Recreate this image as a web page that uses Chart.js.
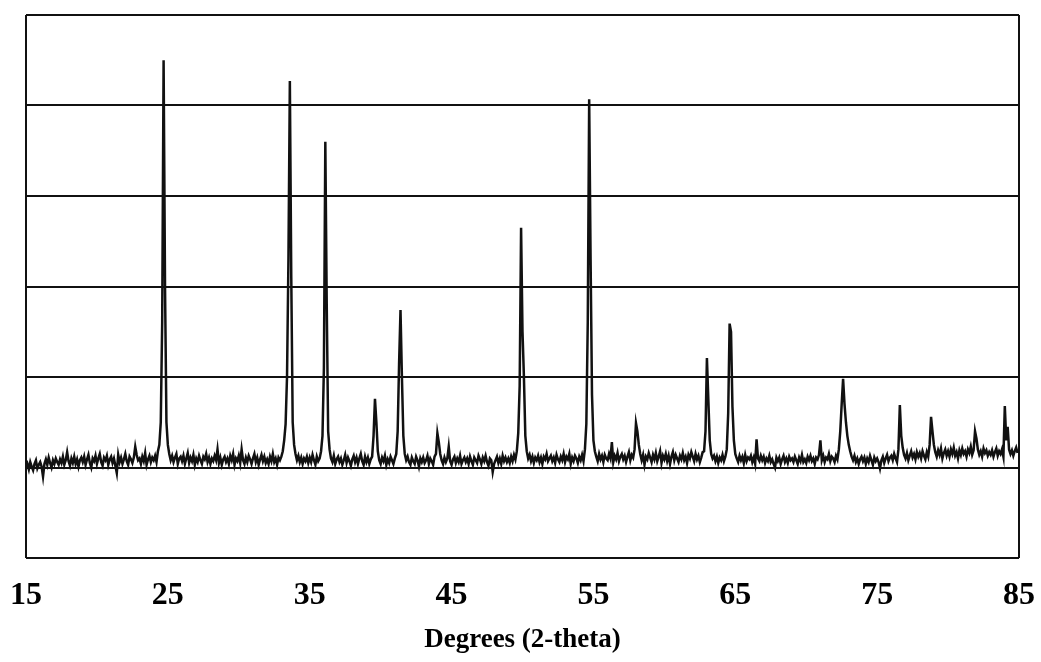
<!DOCTYPE html>
<html>
<head>
<meta charset="utf-8">
<title>XRD pattern</title>
<script src="https://cdn.jsdelivr.net/npm/chart.js@4.4.1/dist/chart.umd.min.js"></script>
<style>
  html, body { margin: 0; padding: 0; background: #fff; }
  #wrap { width: 1041px; height: 662px; }
</style>
</head>
<body>
<div id="wrap"><canvas id="xrd" width="1041" height="662"></canvas></div>
<script>
// scan settings (degrees 2-theta)
const startAngle = 15;
const stepAngle = 0.1;

// tick labels on the x axis
const xTicks = [15, 25, 35, 45, 55, 65, 75, 85];

// intensity, one row per degree (15.0 ... 84.9)
const intensity = [
  100, 104,  98, 106, 101,  97, 104, 108,  99, 103, // 15
  106, 101,  90, 104, 109, 103, 111, 105, 100, 108, // 16
  104, 110, 106, 103, 109, 105, 112, 103, 108, 117, // 17
  107, 102, 110, 105, 112, 104, 109, 101, 108, 111, // 18
  106, 112, 103, 109, 114, 105, 100, 110, 107, 113, // 19
  104, 110, 115, 106, 102, 111, 108, 113, 103, 109, // 20
  112, 105, 110, 102,  94, 114, 106, 111, 104, 109, // 21
  115, 107, 103, 112, 109, 105, 111, 123, 114, 108, // 22
  110, 104, 112, 107, 116, 103, 109, 113, 106, 111, // 23
  108, 113, 106, 118, 125, 150, 260, 550, 300, 150, // 24
  125, 115, 108, 113, 106, 111, 115, 104, 110, 112, // 25
  107, 113, 104, 110, 116, 105, 111, 107, 114, 103, // 26
  110, 106, 113, 108, 104, 112, 109, 115, 106, 111, // 27
  104, 110, 107, 113, 108, 120, 105, 111, 103, 109, // 28
  112, 106, 110, 104, 113, 108, 115, 103, 110, 107, // 29
  113, 105, 120, 108, 104, 111, 106, 113, 109, 104, // 30
  110, 115, 106, 111, 103, 109, 114, 107, 112, 105, // 31
  109, 104, 112, 107, 115, 106, 110, 103, 111, 108, // 32
  112, 118, 130, 148, 200, 330, 527, 310, 150, 125, // 33
  115, 108, 113, 106, 111, 104, 110, 107, 112, 105, // 34
  111, 106, 114, 108, 103, 112, 107, 110, 118, 135, // 35
  210, 460, 280, 140, 120, 110, 106, 113, 104, 109, // 36
  112, 106, 110, 103, 108, 114, 105, 111, 107, 102, // 37
  109, 113, 106, 111, 104, 110, 115, 107, 103, 112, // 38
  106, 111, 104, 109, 112, 135, 176, 150, 118, 108, // 39
  104, 111, 107, 113, 103, 109, 105, 112, 108, 104, // 40
  110, 115, 140, 215, 274, 200, 135, 115, 108, 112, // 41
  106, 103, 111, 107, 104, 112, 108, 101, 110, 106, // 42
  111, 105, 108, 113, 104, 110, 107, 103, 112, 115, // 43
  138, 128, 115, 108, 104, 111, 106, 110, 123, 107, // 44
  103, 109, 112, 105, 110, 106, 113, 104, 108, 111, // 45
  106, 110, 104, 112, 107, 103, 111, 108, 105, 113, // 46
  109, 104, 111, 107, 113, 106, 102, 110, 108,  95, // 47
  104, 108, 112, 105, 110, 104, 113, 107, 111, 106, // 48
  110, 105, 112, 107, 114, 109, 118, 138, 190, 365, // 49
  250, 200, 135, 118, 110, 114, 107, 112, 105, 111, // 50
  108, 113, 106, 111, 104, 112, 109, 115, 107, 110, // 51
  113, 107, 111, 105, 114, 109, 106, 112, 108, 115, // 52
  106, 112, 109, 115, 104, 111, 107, 113, 110, 105, // 53
  112, 108, 114, 107, 120, 148, 260, 507, 330, 180, // 54
  130, 118, 112, 107, 115, 109, 113, 106, 114, 110, // 55
  108, 115, 110, 128, 106, 113, 109, 116, 107, 112, // 56
  115, 109, 113, 106, 112, 117, 108, 114, 111, 120, // 57
  149, 140, 125, 115, 108, 114, 103, 112, 109, 116, // 58
  111, 106, 114, 109, 116, 107, 112, 118, 105, 113, // 59
  109, 115, 107, 113, 104, 112, 117, 108, 114, 110, // 60
  106, 113, 109, 116, 108, 112, 105, 114, 110, 117, // 61
  112, 107, 115, 109, 113, 106, 111, 117, 118, 140, // 62
  221, 175, 130, 115, 110, 113, 107, 112, 105, 111, // 63
  108, 114, 107, 112, 120, 160, 259, 250, 167, 130, // 64
  115, 110, 106, 113, 108, 112, 105, 114, 107, 111, // 65
  109, 113, 106, 111, 104, 131, 110, 107, 113, 108, // 66
  112, 105, 110, 107, 113, 106, 109, 104, 100, 111, // 67
  107, 111, 104, 109, 113, 106, 110, 105, 112, 108, // 68
  110, 106, 112, 108, 104, 111, 107, 114, 106, 109, // 69
  105, 112, 108, 113, 107, 110, 104, 111, 109, 114, // 70
  130, 108, 113, 106, 111, 109, 115, 107, 112, 110, // 71
  106, 113, 109, 120, 140, 170, 198, 170, 150, 135, // 72
  125, 118, 112, 108, 113, 106, 110, 104, 109, 112, // 73
  107, 111, 104, 110, 106, 113, 108, 103, 111, 107, // 74
  110, 106,  99, 108, 112, 105, 110, 114, 107, 111, // 75
  113, 108, 115, 110, 106, 120, 169, 135, 122, 114, // 76
  110, 116, 108, 113, 118, 111, 115, 109, 117, 112, // 77
  116, 110, 118, 113, 109, 117, 112, 125, 156, 140, // 78
  125, 117, 112, 119, 114, 121, 110, 116, 120, 113, // 79
  118, 112, 120, 115, 122, 113, 117, 110, 119, 114, // 80
  121, 115, 118, 112, 120, 116, 123, 114, 119, 140, // 81
  132, 120, 114, 118, 112, 121, 116, 119, 113, 117, // 82
  114, 119, 112, 117, 121, 113, 118, 115, 120, 112, // 83
  168, 130, 145, 120, 115, 119, 113, 118, 122, 116  // 84
];

const serif = "'Liberation Serif', 'Times New Roman', 'DejaVu Serif', serif";

const points = intensity.map((v, i) => ({
  x: +(startAngle + i * stepAngle).toFixed(1),
  y: v
}));

const ctx = document.getElementById('xrd').getContext('2d');
new Chart(ctx, {
  type: 'line',
  data: {
    datasets: [{
      data: points,
      borderColor: '#111',
      borderWidth: 2.5,
      pointRadius: 0,
      tension: 0,
      fill: false
    }]
  },
  options: {
    responsive: false,
    animation: false,
    devicePixelRatio: 1,
    layout: { padding: { left: 26, right: 22, top: 15, bottom: 0 } },
    plugins: {
      legend: { display: false },
      tooltip: { enabled: false }
    },
    scales: {
      x: {
        type: 'linear',
        min: 15,
        max: 85,
        afterFit: (scale) => {
          scale.height = 104;
          scale.paddingLeft = 0;
          scale.paddingRight = 0;
        },
        afterBuildTicks: (scale) => { scale.ticks = xTicks.map(v => ({ value: v })); },
        border: { display: false },
        grid: {
          drawTicks: false,
          lineWidth: 2,
          color: (c) => (c.tick && (c.tick.value === 15 || c.tick.value === 85)) ? '#111' : 'rgba(0,0,0,0)'
        },
        ticks: {
          padding: 19,
          color: '#000',
          maxRotation: 0,
          autoSkip: false,
          font: { family: serif, size: 32, weight: 'bold' }
        },
        title: {
          display: true,
          text: 'Degrees (2-theta)',
          color: '#000',
          font: { family: serif, size: 27, weight: 'bold' },
          padding: { top: 0, bottom: 6 }
        }
      },
      y: {
        min: 0,
        max: 600,
        afterFit: (scale) => { scale.width = 0; },
        border: { display: false },
        grid: { drawTicks: false, color: '#111', lineWidth: 2 },
        ticks: { display: false, stepSize: 100 }
      }
    }
  }
});
</script>
</body>
</html>
